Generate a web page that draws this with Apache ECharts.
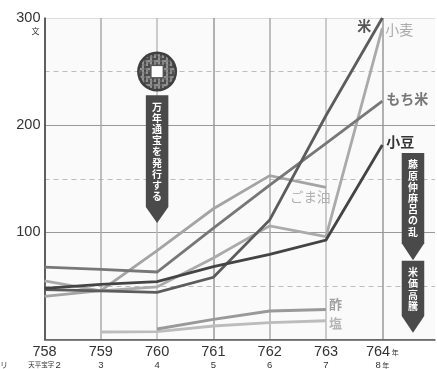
<!DOCTYPE html>
<html lang="ja">
<head>
<meta charset="utf-8">
<style>html,body{margin:0;padding:0;background:#fff}#chart{width:437px;height:369px}</style>
<script src="https://cdn.jsdelivr.net/npm/echarts@6/dist/echarts.min.js"></script>
</head>
<body>
<div id="chart"></div>
<script>
// Price tables, in mon, by western year (null = not recorded)
var years = [758, 759, 760, 761, 762, 763, 764];
var eraYears = ['2', '3', '4', '5', '6', '7', '8'];
var eraName = '天平宝字';
var yTicks = [100, 200, 300];

var kome    = [46.5, 45.3, 44, 58, 111.5, 209, 300];
var mochi   = [67.6, 65.5, 63, 104, 144, 183, 222.5];
var azuki   = [47.7, 51.5, 54, 68, 79.5, 92.8, 181.5];
var komugi  = [54.6, 45.3, 49, 76, 106, 96, 290.6];
var goma    = [40.3, 45.5, 82.9, 122, 152.9, 142, null];
var su      = [null, null, 9.8, 18.8, 26.6, 28, null];
var shio    = [null, 7, 7.3, 12.6, 15.7, 17.5, null];

// Historical events: label, year position, value at top, shoulder and tip of the arrow
var eventLabels = ['万年通宝を発行する', '藤原仲麻呂の乱', '米価高騰'];
var eventYears = [760, 764.545, 764.545];
var eventTops = [228, 174, 73.5];
var eventShoulders = [123.6, 89.7, 22];
var eventTips = [108.7, 74, 6.3];
var coinPoint = [[760, 250]];

var SANS = '"Liberation Sans","Noto Sans CJK JP",sans-serif';
var JP = '"Noto Sans CJK JP",sans-serif';

function pairs(values) {
  var out = [];
  values.forEach(function (v, i) { if (v !== null) out.push([years[i], v]); });
  return out;
}

function lineSeries(name, values, color, labelColor, weight, size, offset, z) {
  return {
    name: name, type: 'line', data: pairs(values), symbol: 'none', z: z,
    lineStyle: { color: color, width: 2.8, join: 'miter' },
    endLabel: {
      show: true, formatter: name, color: labelColor, fontFamily: JP,
      fontWeight: weight, fontSize: size, offset: offset, distance: 0
    }
  };
}

// Mottled surface for the coin
function coinTexture() {
  var c = document.createElement('canvas');
  c.width = c.height = 8;
  var g = c.getContext('2d');
  var shades = ['#5e5e5e', '#858585', '#4c4c4c', '#929292'];
  for (var i = 0; i < 4; i++) {
    for (var j = 0; j < 4; j++) {
      g.fillStyle = shades[(i * 3 + j * 2 + (i * j) % 3) % 4];
      g.fillRect(i * 2, j * 2, 2, 2);
    }
  }
  return c;
}
var texture = coinTexture();

var chart = echarts.init(document.getElementById('chart'), null, { renderer: 'canvas' });
chart.setOption({
  animation: false,
  backgroundColor: '#fff',
  grid: { left: 44.5, right: 2, top: 18, bottom: 29.5, show: true, backgroundColor: '#fafafa', borderWidth: 0, outerBoundsMode: 'none' },
  xAxis: {
    type: 'value', min: 758, max: 764.936, interval: 1,
    axisLine: { show: true, onZero: false, lineStyle: { color: '#5c5c5c', width: 1.5 } },
    axisTick: { show: false },
    splitLine: { show: true, showMaxLine: false, lineStyle: { width: 1.5, color: ['#999', '#aaa', '#bbb', '#999', '#aaa', '#bbb', '#999'] } },
    axisLabel: {
      margin: 5, showMaxLabel: false, interval: 0, color: '#333', fontFamily: SANS,
      formatter: function (v) {
        var i = years.indexOf(v);
        if (i < 0) return '';
        if (v === 764) return '{yr|' + v + '}{u| 年}\n{num|' + eraYears[i] + '}{u| 年}';
        if (i === 0) return '{yr|' + v + '}\n{era|' + eraName + ' }{num|' + eraYears[i] + '}';
        return '{yr|' + v + '}\n{num|' + eraYears[i] + '}';
      },
      rich: {
        yr: { fontSize: 14.5, lineHeight: 15, color: '#333', fontFamily: SANS },
        num: { fontSize: 9.5, lineHeight: 11, color: '#333', fontFamily: SANS },
        era: { fontSize: 6.5, lineHeight: 11, color: '#333', fontFamily: JP },
        u: { fontSize: 7, lineHeight: 11, color: '#333', fontFamily: JP }
      }
    }
  },
  yAxis: {
    type: 'value', min: 0, max: 300, interval: 100,
    name: '文', nameLocation: 'end', nameGap: -17,
    nameTextStyle: { fontSize: 8, color: '#333', fontFamily: JP, align: 'right', padding: [0, 5, 0, 0] },
    axisLine: { show: true, lineStyle: { color: '#444', width: 1.5 } },
    axisTick: { show: false },
    axisLabel: {
      margin: 4, fontSize: 14.5, color: '#333', fontFamily: SANS,
      formatter: function (v) { return yTicks.indexOf(v) >= 0 ? String(v) : ''; }
    },
    splitLine: { show: true, lineStyle: { width: 1, color: ['#999', '#999', '#999', '#ddd'] } },
    minorTick: { show: false, splitNumber: 2 },
    minorSplitLine: { show: true, lineStyle: { color: '#bdbdbd', width: 1, type: [5, 4] } }
  },
  series: [
    lineSeries('塩', shio, '#bcbcbc', '#b5b5b5', 'bold', 13, [3, 2], 3),
    lineSeries('酢', su, '#999', '#a0a0a0', 'bold', 13, [3, -5], 3),
    lineSeries('ごま油', goma, '#a4a4a4', '#b0b0b0', 'normal', 13.5, [-36, 10], 3),
    lineSeries('小麦', komugi, '#aaa', '#aaa', 'normal', 14, [3, 2], 4),
    lineSeries('もち米', mochi, '#777', '#777', 'bold', 14, [4, -2], 5),
    lineSeries('米', kome, '#5c5c5c', '#555', 'bold', 14, [-25, 8], 6),
    lineSeries('小豆', azuki, '#444', '#333', 'bold', 14, [4, -3], 7),
    {
      // Downward arrows carrying the event names
      type: 'custom', coordinateSystem: 'cartesian2d', silent: true, z: 10,
      data: eventLabels.map(function (t, i) { return [eventYears[i], eventTops[i], eventShoulders[i], eventTips[i], i]; }),
      encode: { x: 0, y: 1 },
      renderItem: function (params, api) {
        var year = api.value(0);
        var half = 0.2;
        var tl = api.coord([year - half, api.value(1)]);
        var tr = api.coord([year + half, api.value(1)]);
        var sl = api.coord([year - half, api.value(2)]);
        var sr = api.coord([year + half, api.value(2)]);
        var tip = api.coord([year, api.value(3)]);
        return {
          type: 'group',
          children: [
            { type: 'polygon', shape: { points: [tl, tr, sr, tip, sl] }, style: { fill: '#4a4a4a' } },
            {
              type: 'text',
              style: {
                text: eventLabels[api.value(4)].split('').join('\n'),
                x: tip[0], y: tl[1] + 6, align: 'center', verticalAlign: 'top',
                fill: '#fff', font: 'bold 10px ' + JP, lineHeight: 11.2
              }
            }
          ]
        };
      }
    },
    {
      // Mannen Tsuho coin sitting on the 250 line
      type: 'custom', coordinateSystem: 'cartesian2d', silent: true, z: 9,
      data: coinPoint,
      renderItem: function (params, api) {
        var c = api.coord([api.value(0), api.value(1)]);
        return {
          type: 'group',
          children: [
            { type: 'circle', shape: { cx: c[0], cy: c[1], r: 20 }, style: { fill: '#3f3f3f' } },
            { type: 'circle', shape: { cx: c[0], cy: c[1], r: 17.5 }, style: { fill: { image: texture, repeat: 'repeat' } } },
            { type: 'rect', shape: { x: c[0] - 7, y: c[1] - 7, width: 14, height: 14 }, style: { fill: '#555' } },
            { type: 'rect', shape: { x: c[0] - 5.5, y: c[1] - 5.5, width: 11, height: 11 }, style: { fill: '#fff' } }
          ]
        };
      }
    }
  ],
  graphic: [
    { type: 'text', left: 0, top: 361, style: { text: 'リ', fill: '#444', font: '8px ' + JP } }
  ]
});
</script>
</body>
</html>
